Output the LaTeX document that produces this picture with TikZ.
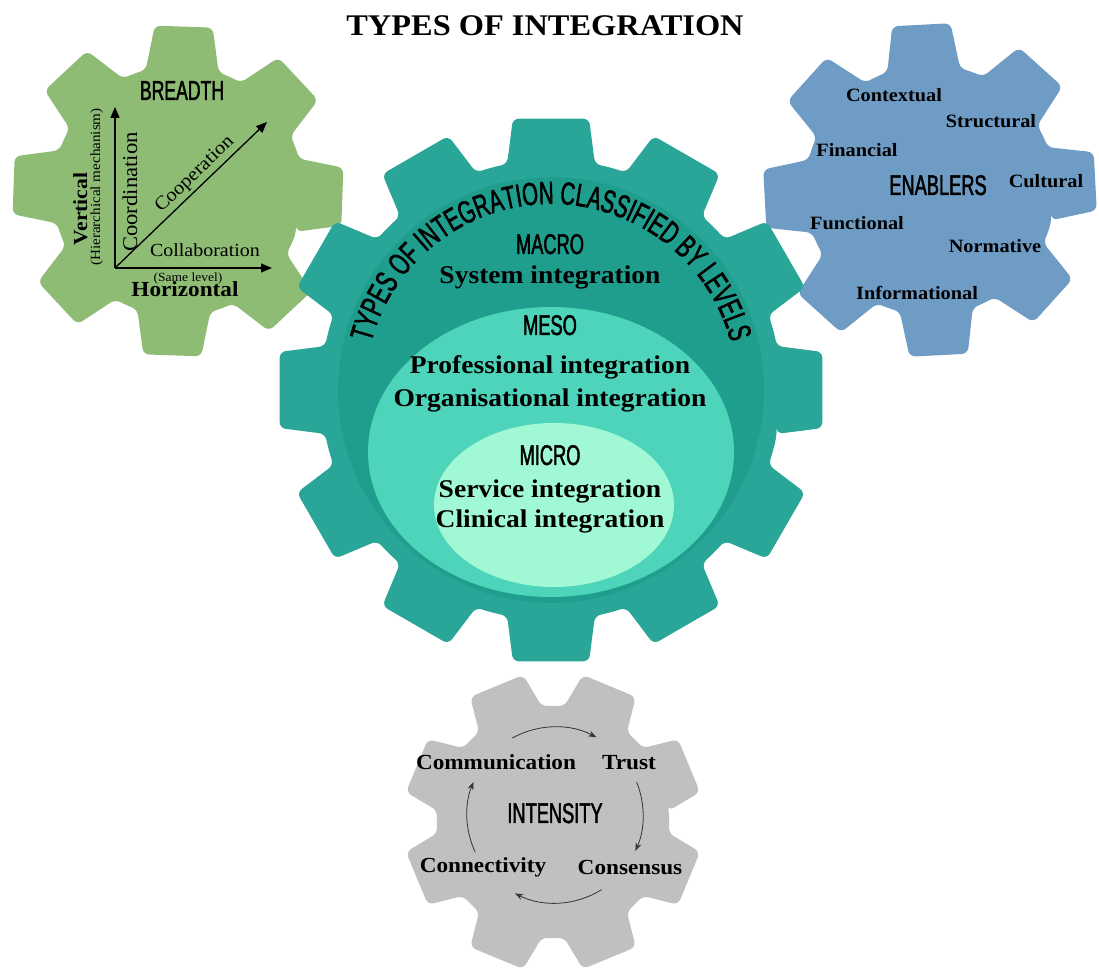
\documentclass[tikz,border=0pt]{standalone}
\usepackage{fontspec}
\setmainfont[FakeStretch=1.08]{Liberation Serif}
\newfontfamily\condsans[FakeStretch=0.64,FakeBold=1.6]{Liberation Sans}
\usetikzlibrary{arrows.meta,decorations.text}

\definecolor{gearGreen}{HTML}{8EBC75}
\definecolor{gearBlue}{HTML}{6E9CC4}
\definecolor{gearTeal}{HTML}{2AA698}
\definecolor{tealCore}{HTML}{1F9E8E}
\definecolor{mesoFill}{HTML}{4ED4BA}
\definecolor{microFill}{HTML}{A0F8D4}
\definecolor{gearGrey}{HTML}{C0C0C0}

\begin{document}
\begin{tikzpicture}[x=1pt,y=1pt,
    every node/.style={anchor=base,inner sep=0pt},
    boldtxt/.style={font=\bfseries\fontsize{#1}{#1}\selectfont},
    regtxt/.style={font=\fontsize{#1}{#1}\selectfont},
    condtxt/.style={font=\condsans\fontsize{#1}{#1}\selectfont},
    axisarrow/.style={line width=1.3pt,-{Triangle[length=11pt,width=9pt]}},
    cyclearrow/.style={line width=0.8pt,black!80,-{Stealth[length=8pt,width=6pt]}},
    pics/gear/.style args={#1/#2/#3/#4/#5/#6}{code={
      \path[pic actions,rounded corners=6pt] ({#4-#6}:#2)
        \foreach \i [evaluate=\i as \a using #4+(\i-1)*360/#1] in {1,...,#1} {
          -- ({\a-#5}:#3) -- ({\a+#5}:#3) -- ({\a+#6}:#2)
          arc[start angle={\a+#6}, end angle={\a+360/#1-#6}, radius=#2]
        } -- cycle;
    }}]

    % Page
    \path[use as bounding box,fill=white] (0,0) rectangle (1099,971);

    % Gear centres
    \coordinate (green) at (178,780);
    \coordinate (blue) at (930,781);
    \coordinate (grey) at (553,149);
    \coordinate (teal) at (551,581);

    % Gears, the teal one last so it sits on top
    \pic[fill=gearGreen] at (green) {gear=8/125/167/-2/10/17};
    \pic[fill=gearBlue] at (blue) {gear=8/125/168/3/10/17};
    \pic[fill=gearGrey] at (grey) {gear=8/116/150/22.5/11/17};
    \pic[fill=gearTeal] at (teal) {gear=12/230/274/0/8/11};

    % Levels
    \fill[tealCore] (teal) circle[radius=213];
    \fill[mesoFill] (551,519) ellipse[x radius=183,y radius=145];
    \fill[microFill] (554,466) ellipse[x radius=120,y radius=82];

    \path[decorate,decoration={text along path,text align=center,
        text={|\condsans\fontsize{32}{32}\selectfont|TYPES OF INTEGRATION CLASSIFIED BY LEVELS}}]
      ([shift={(167:186)}]teal) arc[start angle=167,end angle=13,radius=186];

    \node[boldtxt=30] (title) at (545,935) {TYPES OF INTEGRATION};

    \node[condtxt=28.5] (macro) at (550,717) {MACRO};
    \node[boldtxt=25.5] (system) at (550,687) {System integration};
    \node[condtxt=28.5] (meso) at (550,636) {MESO};
    \node[boldtxt=25.5] (prof) at (550,597) {Professional integration};
    \node[boldtxt=25.5] (orgn) at (550,564) {Organisational integration};
    \node[condtxt=28.5] (micro) at (550,506) {MICRO};
    \node[boldtxt=25.5] (service) at (550,473) {Service integration};
    \node[boldtxt=25.5] (clinical) at (550,443) {Clinical integration};

    % Breadth
    \node[condtxt=27.5] (breadth) at (182,871) {BREADTH};
    \coordinate (axo) at (115,703);
    \coordinate (vtop) at (115,864);
    \coordinate (hend) at (272,703);
    \coordinate (dend) at (267,849);
    \draw[axisarrow] (axo) -- (vtop);
    \draw[axisarrow] (axo) -- (hend);
    \draw[axisarrow] (axo) -- node[regtxt=19,sloped,above=3pt,pos=0.58] (coop) {Cooperation} (dend);
    \node[regtxt=21,rotate=90] (coord) at (137,779) {Coordination};
    \node[regtxt=18.5] (collab) at (205,714) {Collaboration};
    \node[boldtxt=20,rotate=90] (vert) at (87,762) {Vertical};
    \node[regtxt=14,rotate=90] (hier) at (100,784) {(Hierarchical mechanism)};
    \node[regtxt=12.5] (same) at (188,689) {(Same level)};
    \node[boldtxt=21.5] (horiz) at (185,674) {Horizontal};

    % Enablers
    \node[condtxt=28.5] (enablers) at (938,776) {ENABLERS};
    \foreach \txt/\x/\y in {Contextual/894/869,Structural/991/843,Financial/857/814,
        Cultural/1046/783,Functional/857/741,Normative/995/718,Informational/917/671}
      \node[boldtxt=18.8] (\txt) at (\x,\y) {\txt};

    % Intensity
    \node[condtxt=28.5] (intensity) at (555,148) {INTENSITY};
    \node[boldtxt=21.5] (comm) at (496,201) {Communication};
    \node[boldtxt=21.5] (trust) at (629,201) {Trust};
    \node[boldtxt=21.5] (connect) at (483,98) {Connectivity};
    \node[boldtxt=21.5] (consensus) at (630,96) {Consensus};
    \coordinate (ic) at (555,156);
    \foreach \s/\e [count=\k] in {119/62,22/-24,-58/-117,205/158} {
      \coordinate (arc\k) at ([shift={(\s:88)}]ic);
      \draw[cyclearrow] (arc\k) arc[start angle=\s,end angle=\e,radius=88];
    }

  \end{tikzpicture}
\end{document}
